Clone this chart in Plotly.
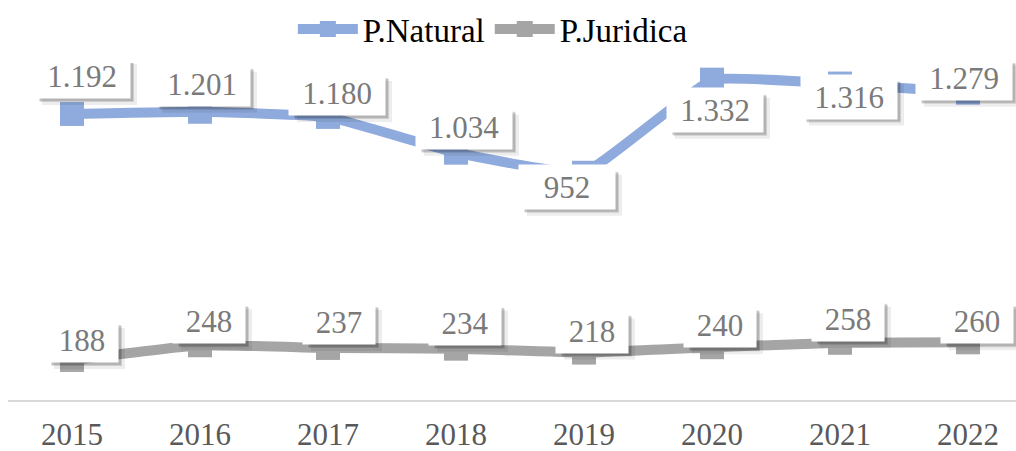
import plotly.graph_objects as go

years = ["2015", "2016", "2017", "2018", "2019", "2020", "2021", "2022"]
natural = [1192, 1201, 1180, 1034, 952, 1332, 1316, 1279]
juridica = [188, 248, 237, 234, 218, 240, 258, 260]

def fmt(v):
    return f"{v:,}".replace(",", ".")

# label offsets in pixels (layout only)
nat_dx = [10, 2, 9, 8, -17, 3, 9, -4]
nat_dy = [38, 28, 24, 26, -14, -30, -13, 15]
jur_dx = [10, 9, 11, 9, 8, 8, 8, 9]
jur_dy = [20, 24, 26, 26, 22, 22, 24, 21]

BLUE = "#8faadc"
GRAY = "#a5a5a5"
SERIF = "Liberation Serif, Times New Roman, serif"

fig = go.Figure()
xs = list(range(len(years)))
fig.add_trace(go.Scatter(
    x=xs, y=natural, name="P.Natural", mode="lines+markers",
    line=dict(color=BLUE, width=10, shape="spline", smoothing=0.3),
    marker=dict(symbol="square", size=24, color=BLUE),
    cliponaxis=False,
))
fig.add_trace(go.Scatter(
    x=xs, y=juridica, name="P.Juridica", mode="lines+markers",
    line=dict(color=GRAY, width=10, shape="spline", smoothing=0.3),
    marker=dict(symbol="square", size=24, color=GRAY),
    cliponaxis=False,
))

annotations = []
shapes = []
H = 44
def add_label(i, v, dx, dy, W):
    for off, grow, alpha in [(6, 2, 0.07), (4, 0, 0.13), (3, 0, 0.13)]:
        shapes.append(dict(
            type="rect", xref="x", yref="y", xsizemode="pixel", ysizemode="pixel",
            xanchor=i, yanchor=v,
            x0=dx - W / 2 + off + 2, x1=dx + W / 2 + off + grow / 2,
            y0=dy - H / 2 - off - grow / 2, y1=dy + H / 2 - off - 4,
            fillcolor=f"rgba(0,0,0,{alpha})", line=dict(width=0), layer="above",
        ))
    annotations.append(dict(
        text=fmt(v), x=i, y=v, xref="x", yref="y", showarrow=False,
        xanchor="center", yanchor="middle", width=W - 8, height=H - 8,
        borderpad=4, xshift=dx, yshift=dy, bgcolor="white",
        font=dict(family=SERIF, size=31, color="#7a7a7a"),
    ))

for i, v in enumerate(natural):
    add_label(i, v, nat_dx[i], nat_dy[i], 96)
for i, v in enumerate(juridica):
    add_label(i, v, jur_dx[i], jur_dy[i], 72)

fig.update_layout(
    width=1016, height=451,
    margin=dict(l=8, r=0, t=63, b=51, autoexpand=False),
    paper_bgcolor="white", plot_bgcolor="white",
    showlegend=True,
    legend=dict(orientation="h", x=0.481, xanchor="center", y=1 - 29 / 451, yanchor="middle",
                yref="container", font=dict(family=SERIF, size=33, color="black"),
                itemwidth=60, tracegroupgap=0, bgcolor="rgba(0,0,0,0)"),
    annotations=annotations,
    shapes=shapes,
)
fig.update_xaxes(
    range=[-0.5, 7.375], tickvals=xs, ticktext=years, automargin=False,
    showgrid=False, zeroline=False, showline=True, linecolor="#d9d9d9", linewidth=2,
    ticks="", tickfont=dict(family=SERIF, size=31, color="#595959"),
    ticklabelstandoff=6,
)
fig.update_yaxes(range=[24.5, 1400], visible=False, showgrid=False, automargin=False)

fig.write_html("out.html", config={"displayModeBar": False},
               post_script="document.body.style.margin='0px';document.body.style.overflow='hidden';")
